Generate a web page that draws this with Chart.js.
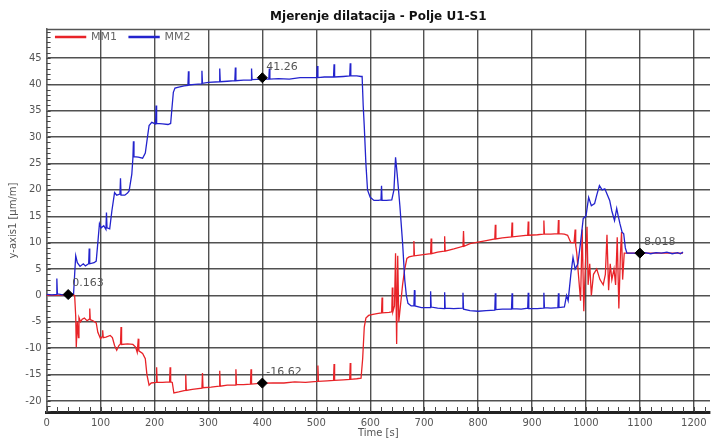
<!DOCTYPE html>
<html><head><meta charset="utf-8">
<script src="https://cdn.jsdelivr.net/npm/chart.js@4.4.1/dist/chart.umd.min.js"></script>
<style>html,body{margin:0;padding:0;background:#fff;}#wrap{width:716px;height:439px;}</style>
</head><body><div id="wrap"><canvas id="c" width="716" height="439"></canvas></div>
<script>
const titleText = 'Mjerenje dilatacija - Polje U1-S1';
const xTitle = 'Time [s]';
const yTitle = 'y-axis1 [µm/m]';
const xTicks = [0,100,200,300,400,500,600,700,800,900,1000,1100,1200];
const yTicks = [-20,-15,-10,-5,0,5,10,15,20,25,30,35,40,45];

const mm1Time = [0,50,52,54,55,57,59,60,63,66,70,75,79,80,81,86,92,95,100,103,104,105,110,118,122,126,130,134,137,138,139,150,160,165,168,170,171,178,183,186,190,194,203,204,205,215,228,229,230,233,236,245,257,258,259,270,288,289,290,305,320,321,322,335,350,351,352,365,378,379,380,400,420,440,460,480,502,503,504,520,532,533,534,550,562,563,564,575,583,586,589,592,597,605,615,621,622,623,635,640,641,642,645,647,649,651,653,656,660,664,668,672,680,681,682,695,712,713,714,725,737,738,739,755,772,773,774,785,800,815,831,832,833,845,862,863,864,880,892,893,894,910,921,922,923,935,948,949,950,960,966,972,978,980,981,983,986,990,993,996,999,1002,1004,1007,1010,1014,1020,1026,1032,1036,1039,1042,1045,1048,1052,1055,1058,1061,1064,1066,1068,1071,1076,1090,1110,1130,1150,1170,1180];
const mm1Value = [0,0.1,0,-4,-9.8,-5,-8,-4.2,-5,-4.5,-4.3,-4.8,-4.5,-2.5,-4.6,-4.8,-5.2,-7,-8.2,-7.8,-6.6,-8,-7.9,-7.6,-8,-9.5,-10.4,-9.5,-9.2,-6,-9.3,-9.2,-9.3,-9.8,-10.8,-8.2,-10.5,-11,-12,-15,-17,-16.6,-16.5,-13.6,-16.5,-16.5,-16.4,-13.6,-16.4,-16.5,-18.5,-18.3,-18,-15,-18,-17.8,-17.6,-14.7,-17.5,-17.4,-17.2,-14.3,-17.2,-17,-17,-14,-16.9,-16.9,-16.8,-14,-16.8,-16.62,-16.6,-16.6,-16.4,-16.5,-16.3,-13.3,-16.3,-16.2,-16.1,-13,-16.1,-16,-15.9,-12.8,-15.9,-15.8,-15.7,-12,-6,-4.3,-3.8,-3.6,-3.4,-3.3,-0.4,-3.3,-3.2,-3.1,1.5,-3.1,-2,8,-9.2,7.5,-5,-2,2,5,7,7.3,7.5,10.3,7.5,7.7,7.9,10.8,7.9,8.2,8.4,11.2,8.4,8.8,9.3,12.2,9.3,9.8,10.1,10.4,10.7,13.4,10.7,10.9,11.1,13.8,11.1,11.3,11.4,14,11.4,11.5,11.6,14.2,11.6,11.6,11.7,14.3,11.7,11.6,11.4,10,10,12.5,9.5,8,4,-1,12.5,-3,6,13,2,6,0,4,5,3,2,4,11.5,1,6,3,5,2,11,-2.5,8,12,3,8,8,8,8,8,8,8,8];

const mm2Time = [0,10,18,19,20,30,40,50,52,54,57,62,68,72,78,79,80,88,92,95,98,101,106,110,111,112,117,121,126,130,136,137,138,145,150,153,158,160,161,162,170,178,183,187,190,195,202,203,204,215,225,230,232,235,238,245,255,262,263,264,275,287,288,289,300,320,321,322,335,349,350,351,365,379,380,381,400,412,413,414,430,450,470,490,501,502,503,515,532,533,534,550,562,563,564,575,583,585,587,589,592,595,600,607,615,620,621,622,630,640,644,647,650,655,660,664,667,670,676,681,682,683,695,711,712,713,725,737,738,739,755,771,772,773,785,800,815,831,832,833,845,862,863,864,880,892,893,894,910,921,922,923,935,948,949,950,960,964,967,972,976,980,985,990,995,1000,1005,1010,1016,1020,1025,1030,1035,1040,1044,1048,1053,1057,1060,1063,1067,1070,1073,1076,1085,1100,1110,1120,1130,1140,1150,1160,1170,1175,1180];
const mm2Value = [0.2,0.1,0.2,3.2,0.3,0.1,0.16,0.3,4,7.5,6.2,5.5,6,5.6,6,8.9,6,6.2,6.5,10,13.6,12.8,13.2,12.5,15.7,12.8,12.6,16,19.5,19,19.2,22.2,19,19,19.4,19.8,23,26,29.2,26.3,26.2,26,27,30,32.2,32.8,32.5,36,32.6,32.5,32.4,32.6,35,38.5,39.3,39.5,39.7,39.8,42.5,39.9,40,40.1,42.6,40.2,40.4,40.5,43,40.5,40.6,40.7,43.2,40.7,40.8,40.8,43,40.9,41,41,43,41,41.1,41,41.3,41.3,41.3,43.5,41.3,41.4,41.4,43.8,41.4,41.5,41.6,44,41.6,41.6,41.5,41.5,36,32,25,20,18.6,18,18,18.1,20.8,18,18,18.1,20,26.2,23,17,10,3,0,-1.5,-2,-2,1,-2,-2.3,-2.3,0.8,-2.2,-2.4,-2.5,0.6,-2.4,-2.5,-2.4,0.5,-2.6,-2.9,-3,-2.9,-2.8,0.4,-2.7,-2.6,-2.6,0.4,-2.5,-2.6,-2.4,0.5,-2.5,-2.5,-2.4,0.5,-2.3,-2.4,-2.3,0.4,-2.3,-2.2,0,-1,4,7.2,5,6,10,14.6,15,18.6,17,17.4,19,20.8,20,20.2,19,18,16,14.2,16.5,15,13.6,12,11.7,9,8,8,8.018,8.1,7.9,8.1,8,8.2,7.9,8.1,7.9,8.2];

const markerTime = [40,400,400,1100];
const markerValue = [0.163,41.26,-16.62,8.018];
const markerLabel = ['0.163','41.26','-16.62','8.018'];

const toXY = (t, v) => t.map((x, i) => ({x: x, y: v[i]}));
const FONT = 'DejaVu Sans, Verdana, sans-serif';

const framePlugin = {
  id: 'frame',
  afterInit(chart) {
    const lg = chart.legend;
    if (lg) {
      const origFit = lg.fit.bind(lg);
      lg.fit = function () { origFit(); this.height = 0; };
    }
  },
  afterLayout(chart) {
    const lg = chart.legend;
    if (lg) {
      const a = chart.chartArea;
      lg.top = a.top - 9.5;
      lg.left = a.left - 3;
      lg.right = a.right;
      lg.width = a.right - lg.left;
      lg.height = 40;
      lg.bottom = lg.top + 40;
    }
  },
  beforeDatasetsDraw(chart) {
    const {ctx, chartArea: a, scales: {x, y}} = chart;
    ctx.save();
    ctx.strokeStyle = '#555';
    ctx.lineWidth = 1.5;
    ctx.beginPath();
    ctx.moveTo(a.left, a.top + 0.5); ctx.lineTo(a.right, a.top + 0.5);
    ctx.stroke();
    ctx.strokeStyle = '#444';
    ctx.lineWidth = 1;
    ctx.beginPath();
    for (let t = 0; t <= x.max; t += 20) {
      const px = Math.round(x.getPixelForValue(t)) + 0.5;
      ctx.moveTo(px, a.bottom); ctx.lineTo(px, a.bottom - 5);
    }
    for (let v = Math.ceil(y.min); v <= y.max; v += 1) {
      const py = Math.round(y.getPixelForValue(v)) + 0.5;
      ctx.moveTo(a.left, py); ctx.lineTo(a.left + 4, py);
    }
    ctx.stroke();
    ctx.restore();
  },
  afterDatasetsDraw(chart) {
    const {ctx} = chart;
    const meta = chart.getDatasetMeta(2);
    ctx.save();
    ctx.font = '11px ' + FONT;
    ctx.fillStyle = '#555';
    ctx.textBaseline = 'middle';
    ctx.textAlign = 'left';
    meta.data.forEach((p, i) => {
      ctx.fillText(markerLabel[i], p.x + 4, p.y - 11);
    });
    ctx.restore();
  }
};

new Chart(document.getElementById('c'), {
  type: 'line',
  data: {
    datasets: [
      {label: 'MM2', data: toXY(mm2Time, mm2Value), borderColor: 'rgb(35,35,205)', backgroundColor: 'rgb(35,35,205)', borderWidth: 1.3, pointRadius: 0, tension: 0, order: 1},
      {label: 'MM1', data: toXY(mm1Time, mm1Value), borderColor: 'rgb(232,35,40)', backgroundColor: 'rgb(232,35,40)', borderWidth: 1.3, pointRadius: 0, tension: 0, order: 2},
      {label: 'markers', data: toXY(markerTime, markerValue), showLine: false, pointStyle: 'rectRot', pointRadius: 5, pointBackgroundColor: '#000', pointBorderColor: '#000', order: 0}
    ]
  },
  options: {
    responsive: false,
    animation: false,
    devicePixelRatio: 1,
    layout: {padding: 0},
    plugins: {
      title: {display: true, text: titleText, fullSize: false, color: '#111', font: {family: FONT, size: 12, weight: 'bold'}, padding: {top: 10, bottom: 4.6}},
      legend: {
        display: true, position: 'top', align: 'start', fullSize: false, reverse: true,
        labels: {
          filter: item => item.text !== 'markers',
          boxWidth: 30, boxHeight: 1, padding: 12, color: '#666',
          font: {family: FONT, size: 11}
        }
      },
      tooltip: {enabled: false}
    },
    scales: {
      x: {
        type: 'linear', min: 0, max: 1230,
        afterBuildTicks: s => { s.ticks = xTicks.map(v => ({value: v})); },
        afterFit: s => { s.height = 27; },
        ticks: {color: '#555', font: {family: FONT, size: 10}, padding: 5, maxRotation: 0, autoSkip: false, callback: v => String(v)},
        grid: {color: 'rgba(50,50,50,0.85)', lineWidth: 1.4, drawTicks: false},
        border: {display: true, color: '#222', width: 3},
        title: {display: true, text: xTitle, color: '#555', font: {family: FONT, size: 10}, padding: {top: 0, bottom: 0}}
      },
      y: {
        type: 'linear', min: -22.1, max: 50.5,
        afterBuildTicks: s => { s.ticks = yTicks.map(v => ({value: v})); },
        afterFit: s => { s.width = 46.6; },
        ticks: {color: '#555', font: {family: FONT, size: 10}, padding: 5, autoSkip: false},
        grid: {color: 'rgba(50,50,50,0.85)', lineWidth: 1.4, drawTicks: false},
        border: {display: true, color: '#666', width: 1.5},
        title: {display: true, text: yTitle, color: '#555', font: {family: FONT, size: 10}, padding: {top: 7, bottom: 0}}
      }
    }
  },
  plugins: [framePlugin]
});
</script></body></html>
